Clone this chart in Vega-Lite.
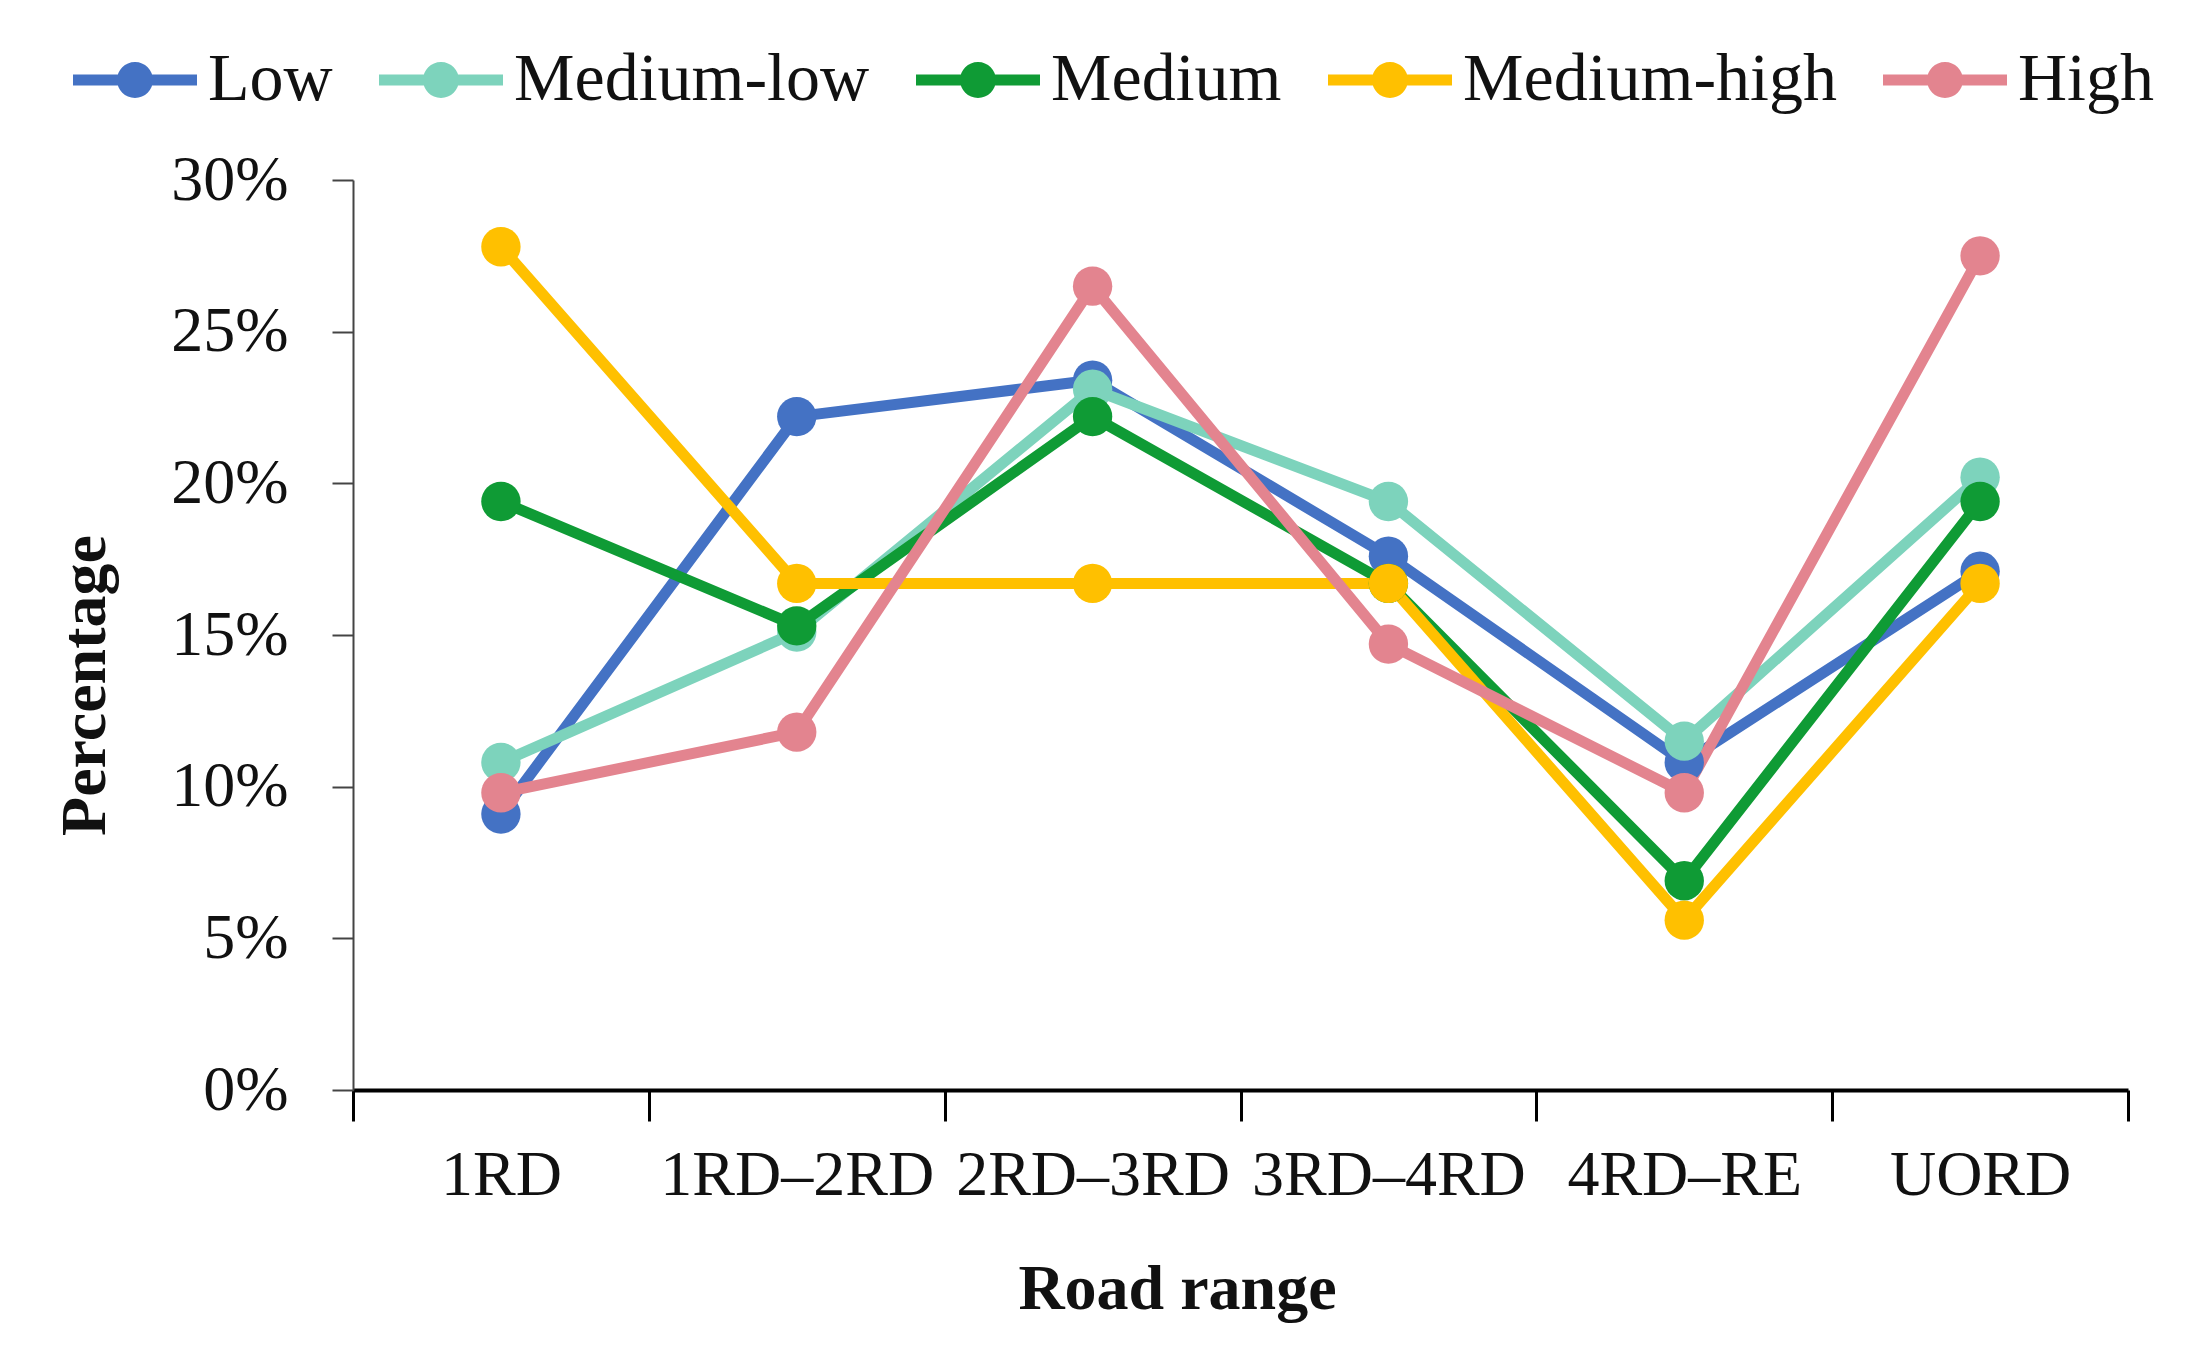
{
  "$schema": "https://vega.github.io/schema/vega-lite/v6.json",
  "width": 1775,
  "height": 910,
  "autosize": "none",
  "padding": {"left": 353, "top": 180, "right": 69, "bottom": 266},
  "background": "white",
  "config": {
    "font": "Liberation Serif",
    "view": {"stroke": null},
    "axis": {"grid": false, "labelFont": "Liberation Serif", "titleFont": "Liberation Serif", "labelColor": "#111", "titleColor": "#111", "labelLimit": 0}
  },
  "data": {
    "values": [
      {"range": "1RD", "level": "Low", "value": 0.091},
      {"range": "1RD–2RD", "level": "Low", "value": 0.222},
      {"range": "2RD–3RD", "level": "Low", "value": 0.234},
      {"range": "3RD–4RD", "level": "Low", "value": 0.176},
      {"range": "4RD–RE", "level": "Low", "value": 0.108},
      {"range": "UORD", "level": "Low", "value": 0.171},
      {"range": "1RD", "level": "Medium-low", "value": 0.108},
      {"range": "1RD–2RD", "level": "Medium-low", "value": 0.151},
      {"range": "2RD–3RD", "level": "Medium-low", "value": 0.231},
      {"range": "3RD–4RD", "level": "Medium-low", "value": 0.194},
      {"range": "4RD–RE", "level": "Medium-low", "value": 0.115},
      {"range": "UORD", "level": "Medium-low", "value": 0.202},
      {"range": "1RD", "level": "Medium", "value": 0.194},
      {"range": "1RD–2RD", "level": "Medium", "value": 0.153},
      {"range": "2RD–3RD", "level": "Medium", "value": 0.222},
      {"range": "3RD–4RD", "level": "Medium", "value": 0.167},
      {"range": "4RD–RE", "level": "Medium", "value": 0.069},
      {"range": "UORD", "level": "Medium", "value": 0.194},
      {"range": "1RD", "level": "Medium-high", "value": 0.278},
      {"range": "1RD–2RD", "level": "Medium-high", "value": 0.167},
      {"range": "2RD–3RD", "level": "Medium-high", "value": 0.167},
      {"range": "3RD–4RD", "level": "Medium-high", "value": 0.167},
      {"range": "4RD–RE", "level": "Medium-high", "value": 0.056},
      {"range": "UORD", "level": "Medium-high", "value": 0.167},
      {"range": "1RD", "level": "High", "value": 0.098},
      {"range": "1RD–2RD", "level": "High", "value": 0.118},
      {"range": "2RD–3RD", "level": "High", "value": 0.265},
      {"range": "3RD–4RD", "level": "High", "value": 0.147},
      {"range": "4RD–RE", "level": "High", "value": 0.098},
      {"range": "UORD", "level": "High", "value": 0.275}
    ]
  },
  "mark": {"type": "line", "strokeWidth": 11, "point": {"filled": true, "size": 1550, "opacity": 1}},
  "encoding": {
    "x": {
      "field": "range", "type": "nominal", "bandPosition": 0.5,
      "sort": ["1RD", "1RD–2RD", "2RD–3RD", "3RD–4RD", "4RD–RE", "UORD"],
      "scale": {"type": "band", "paddingInner": 0, "paddingOuter": 0},
      "title": "Road range",
      "axis": {
        "labelAngle": 0, "labelFontSize": 64, "labelPadding": 22, "labelLimit": 0,
        "tickBand": "extent", "tickSize": 31, "tickWidth": 3, "tickColor": "#000",
        "domainColor": "#000", "domainWidth": 4,
        "titleFontSize": 64, "titleFontWeight": "bold", "titlePadding": 50, "titleX": 824
      }
    },
    "y": {
      "field": "value", "type": "quantitative",
      "scale": {"domain": [0, 0.3], "nice": false},
      "title": "Percentage",
      "axis": {
        "values": [0, 0.05, 0.1, 0.15, 0.2, 0.25, 0.3], "format": ".0%",
        "labelFontSize": 64, "labelPadding": 44,
        "tickSize": 21, "tickWidth": 2, "tickColor": "#444",
        "domainColor": "#444", "domainWidth": 2,
        "titleFontSize": 64, "titleFontWeight": "bold", "titleX": -236, "titleY": 505
      }
    },
    "color": {
      "field": "level", "type": "nominal",
      "sort": ["Low", "Medium-low", "Medium", "Medium-high", "High"],
      "scale": {
        "domain": ["Low", "Medium-low", "Medium", "Medium-high", "High"],
        "range": ["#4472C4", "#7DD3BC", "#0F9B35", "#FFC000", "#E3848F"]
      },
      "legend": {
        "title": null, "orient": "none", "direction": "horizontal",
        "legendX": -280, "legendY": -162,
        "labelFontSize": 68, "labelFont": "Liberation Serif", "labelColor": "#111", "labelLimit": 0,
        "labelOffset": 11, "columnPadding": 46,
        "symbolType": "M-1,-0.09H-0.25V0.09H-1Z M0.25,-0.09H1V0.09H0.25Z M0.29,0A0.29,0.29 0 1 1 -0.29,0A0.29,0.29 0 1 1 0.29,0Z",
        "symbolSize": 15376, "symbolStrokeWidth": 0, "symbolOpacity": 1,
        "encode": {"symbols": {"update": {"fill": {"scale": "color", "field": "value"}, "strokeWidth": {"value": 0}}}}
      }
    }
  }
}
